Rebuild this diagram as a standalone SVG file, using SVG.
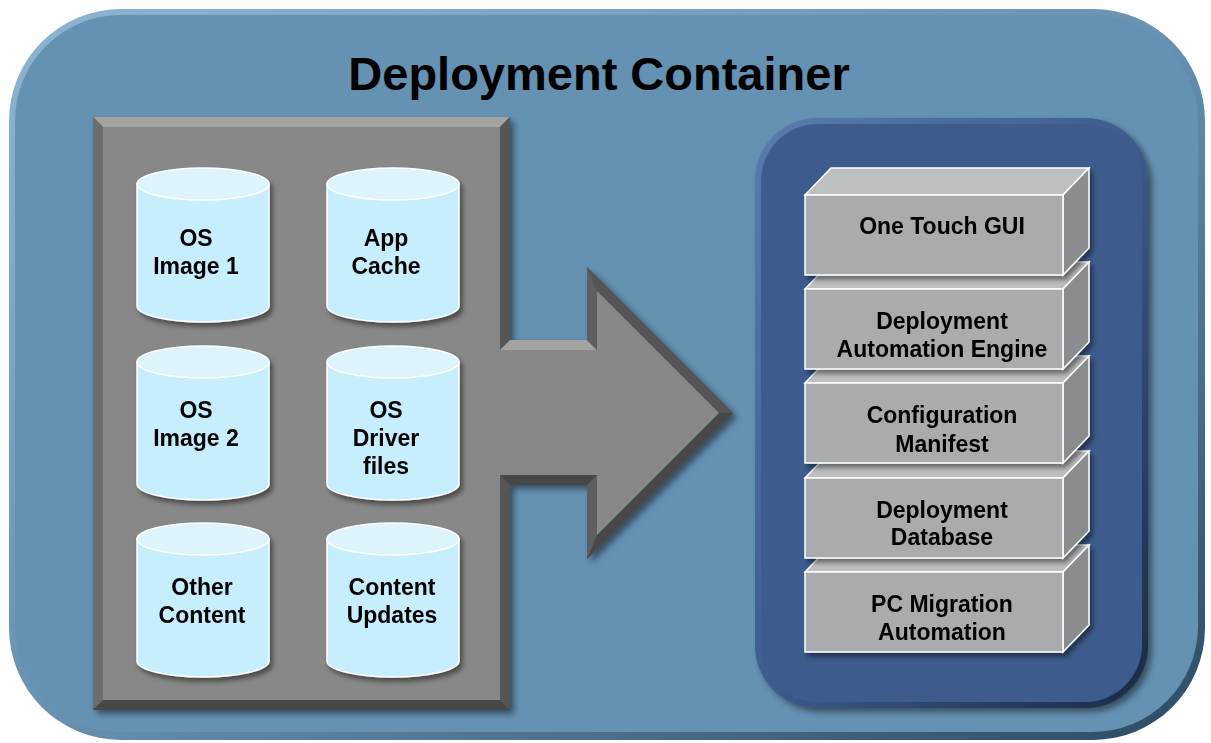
<svg xmlns="http://www.w3.org/2000/svg" width="1211" height="743" viewBox="0 0 1211 743">
<defs>
<linearGradient id="outerBevel" x1="0" y1="0" x2="1" y2="1">
<stop offset="0" stop-color="#8DB5D3"/>
<stop offset="0.5" stop-color="#6891B2"/>
<stop offset="1" stop-color="#2C4A63"/>
</linearGradient>
<linearGradient id="innerBevel" x1="0" y1="0" x2="1" y2="1">
<stop offset="0" stop-color="#5A7CAE"/>
<stop offset="0.5" stop-color="#3D5C8D"/>
<stop offset="1" stop-color="#1B2A45"/>
</linearGradient>
<filter id="shadow" x="-10%" y="-10%" width="125%" height="125%">
<feDropShadow dx="4" dy="4" stdDeviation="3" flood-color="#000" flood-opacity="0.45"/>
</filter>
<filter id="shadowS" x="-10%" y="-10%" width="130%" height="130%">
<feDropShadow dx="3" dy="4" stdDeviation="2.5" flood-color="#000" flood-opacity="0.45"/>
</filter>
</defs>
<style>
.lbl{font-family:"Liberation Sans",Arial,sans-serif;font-weight:bold;font-size:23px;fill:#000;text-anchor:middle}
.title{font-family:"Liberation Sans",Arial,sans-serif;font-weight:bold;font-size:47px;fill:#000;text-anchor:middle}
.cylBody{fill:#C6EEFC;stroke:#FFFFFF;stroke-width:1.5}
.cylTop{fill:#DDF4FD;stroke:#FFFFFF;stroke-width:1.5}
.front{fill:#AAABAE;stroke:#FFFFFF;stroke-width:1.5}
.top{fill:#BEBFC1;stroke:#FFFFFF;stroke-width:1.5}
.side{fill:#8B8C8F;stroke:#FFFFFF;stroke-width:1.5}
</style>

<g id="container">
<rect x="9" y="9" width="1196" height="731" rx="112" fill="url(#outerBevel)"/>
<rect x="15" y="15" width="1183" height="717" rx="106" fill="#6591B3"/>
<text class="title" x="599" y="90">Deployment Container</text>
</g>

<g id="sourcePanel" filter="url(#shadow)">
<polygon fill="#555555" points="93,117 510,117 510,340 587,340 587,267 733,413 587,559 587,485 510,485 510,710 93,710"/>
<polygon fill="#A3A3A3" points="93,117 510,117 500,127 103,127"/>
<polygon fill="#6C6C6C" points="93,117 103,127 103,700 93,710"/>
<polygon fill="#464646" points="93,710 103,700 500,700 510,710"/>
<polygon fill="#555555" points="510,117 500,127 500,350 510,340"/>
<polygon fill="#555555" points="510,485 500,475 500,700 510,710"/>
<polygon fill="#A3A3A3" points="500,350 510,340 587,340 597,350"/>
<polygon fill="#5E5E5E" points="587,267 597,291 597,350 587,340"/>
<polygon fill="#555555" points="587,267 733,413 719,413 597,291"/>
<polygon fill="#474747" points="733,413 587,559 597,535 719,413"/>
<polygon fill="#5E5E5E" points="587,485 597,475 597,535 587,559"/>
<polygon fill="#474747" points="500,475 597,475 587,485 510,485"/>
<polygon fill="#888888" points="103,127 500,127 500,350 597,350 597,291 719,413 597,535 597,475 500,475 500,700 103,700"/>
</g>

<g id="cyl-os-image-1" filter="url(#shadowS)">
<path class="cylBody" d="M137,184 L137,306 A66,16 0 0 0 269,306 L269,184 Z"/>
<ellipse class="cylTop" cx="203" cy="184" rx="66" ry="16"/>
<text class="lbl" x="196" y="246">OS</text>
<text class="lbl" x="196" y="274">Image 1</text>
</g>
<g id="cyl-app-cache" filter="url(#shadowS)">
<path class="cylBody" d="M327,184 L327,306 A66,16 0 0 0 459,306 L459,184 Z"/>
<ellipse class="cylTop" cx="393" cy="184" rx="66" ry="16"/>
<text class="lbl" x="386" y="246">App</text>
<text class="lbl" x="386" y="274">Cache</text>
</g>
<g id="cyl-os-image-2" filter="url(#shadowS)">
<path class="cylBody" d="M137,362 L137,484 A66,16 0 0 0 269,484 L269,362 Z"/>
<ellipse class="cylTop" cx="203" cy="362" rx="66" ry="16"/>
<text class="lbl" x="196" y="418">OS</text>
<text class="lbl" x="196" y="446">Image 2</text>
</g>
<g id="cyl-os-driver" filter="url(#shadowS)">
<path class="cylBody" d="M327,362 L327,484 A66,16 0 0 0 459,484 L459,362 Z"/>
<ellipse class="cylTop" cx="393" cy="362" rx="66" ry="16"/>
<text class="lbl" x="386" y="418">OS</text>
<text class="lbl" x="386" y="446">Driver</text>
<text class="lbl" x="386" y="474">files</text>
</g>
<g id="cyl-other-content" filter="url(#shadowS)">
<path class="cylBody" d="M137,539 L137,661 A66,16 0 0 0 269,661 L269,539 Z"/>
<ellipse class="cylTop" cx="203" cy="539" rx="66" ry="16"/>
<text class="lbl" x="202" y="595">Other</text>
<text class="lbl" x="202" y="623">Content</text>
</g>
<g id="cyl-content-updates" filter="url(#shadowS)">
<path class="cylBody" d="M327,539 L327,661 A66,16 0 0 0 459,661 L459,539 Z"/>
<ellipse class="cylTop" cx="393" cy="539" rx="66" ry="16"/>
<text class="lbl" x="392" y="595">Content</text>
<text class="lbl" x="392" y="623">Updates</text>
</g>

<g id="stackPanel" filter="url(#shadow)">
<rect x="755" y="118" width="393" height="590" rx="62" fill="url(#innerBevel)"/>
<rect x="761" y="124" width="381" height="578" rx="57" fill="#3D5C8D"/>
</g>

<g id="box-pc-migration" filter="url(#shadowS)">
<polygon class="top" points="805,572 831,545 1089,545 1063,572"/>
<polygon class="side" points="1063,572 1089,545 1089,625 1063,652"/>
<rect class="front" x="805" y="572" width="258" height="80"/>
<text class="lbl" x="942" y="612">PC Migration</text>
<text class="lbl" x="942" y="640">Automation</text>
</g>
<g id="box-deployment-database" filter="url(#shadowS)">
<polygon class="top" points="805,478 831,451 1089,451 1063,478"/>
<polygon class="side" points="1063,478 1089,451 1089,531 1063,558"/>
<rect class="front" x="805" y="478" width="258" height="80"/>
<text class="lbl" x="942" y="518">Deployment</text>
<text class="lbl" x="942" y="545">Database</text>
</g>
<g id="box-configuration-manifest" filter="url(#shadowS)">
<polygon class="top" points="805,383 831,356 1089,356 1063,383"/>
<polygon class="side" points="1063,383 1089,356 1089,436 1063,463"/>
<rect class="front" x="805" y="383" width="258" height="80"/>
<text class="lbl" x="942" y="423">Configuration</text>
<text class="lbl" x="942" y="452">Manifest</text>
</g>
<g id="box-automation-engine" filter="url(#shadowS)">
<polygon class="top" points="805,289 831,262 1089,262 1063,289"/>
<polygon class="side" points="1063,289 1089,262 1089,342 1063,369"/>
<rect class="front" x="805" y="289" width="258" height="80"/>
<text class="lbl" x="942" y="329">Deployment</text>
<text class="lbl" x="942" y="357">Automation Engine</text>
</g>
<g id="box-one-touch-gui" filter="url(#shadowS)">
<polygon class="top" points="805,195 831,168 1089,168 1063,195"/>
<polygon class="side" points="1063,195 1089,168 1089,248 1063,275"/>
<rect class="front" x="805" y="195" width="258" height="80"/>
<text class="lbl" x="942" y="234">One Touch GUI</text>
</g>

<g id="connectors"></g>
</svg>
